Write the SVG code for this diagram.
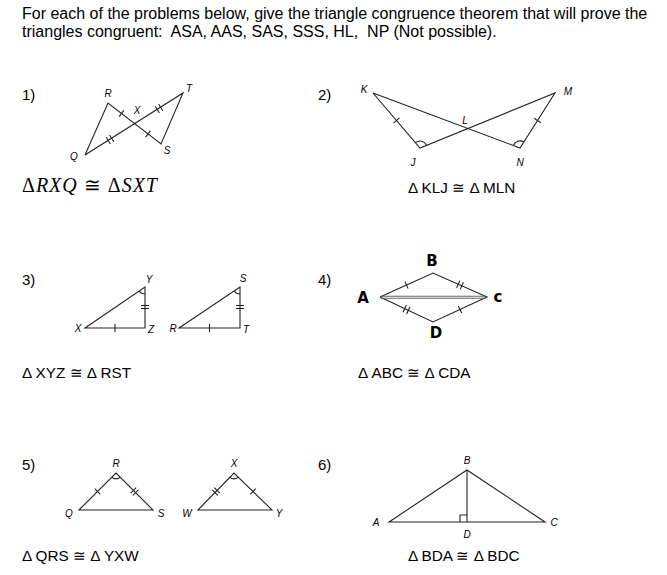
<svg xmlns="http://www.w3.org/2000/svg" width="667" height="575" viewBox="0 0 667 575">
<style>
text{font-family:"Liberation Sans",Arial,sans-serif;fill:#000}
.h{font-size:16px}
.n{font-size:15px}
.lb{font-size:10px;font-style:italic;text-anchor:middle}
.st{font-size:15.3px}
.sr{font-family:"Liberation Serif","Times New Roman",serif;font-size:20px;letter-spacing:1px}
.sr tspan{font-style:italic}
.hw{font-family:"DejaVu Sans",sans-serif;font-weight:bold;font-size:15px;text-anchor:middle}
.ln line,.ln path,.ln polyline{stroke:#222;stroke-width:1.1;fill:none}
</style>
<rect width="667" height="575" fill="#fff"/>
<g id="header">
<text class="h" x="22" y="19">For each of the problems below, give the triangle congruence theorem that will prove the</text>
<text class="h" x="22" y="37" xml:space="preserve">triangles congruent:  ASA, AAS, SAS, SSS, HL,  NP (Not possible).</text>
</g>
<g id="numbers">
<text class="n" x="22" y="100">1)</text><text class="n" x="318" y="100">2)</text>
<text class="n" x="22" y="285">3)</text><text class="n" x="318" y="285">4)</text>
<text class="n" x="22" y="470">5)</text><text class="n" x="318" y="470">6)</text>
</g>
<g id="p1">
<g class="ln">
<polyline points="85,155 108,103 161,144 183,93 85,155"/>
<line x1="119.1" y1="116.7" x2="123.9" y2="110.3"/>
<line x1="145.6" y1="137.2" x2="150.4" y2="130.8"/>
<line x1="106.2" y1="137.2" x2="110.4" y2="144"/><line x1="109.6" y1="135" x2="113.8" y2="141.8"/>
<line x1="155.2" y1="106.2" x2="159.4" y2="113"/><line x1="158.6" y1="104" x2="162.8" y2="110.8"/>
</g>
<text class="lb" x="108" y="97">R</text><text class="lb" x="189" y="92">T</text>
<text class="lb" x="137" y="114">X</text><text class="lb" x="74" y="160">Q</text><text class="lb" x="167" y="154">S</text>
<text class="sr" x="22" y="192">Δ<tspan>RXQ</tspan> ≅ Δ<tspan>SXT</tspan></text>
</g>
<g id="p2">
<g class="ln">
<polyline points="373,93 420,148 555,93 520,148 373,93"/>
<line x1="393.5" y1="123.1" x2="399.5" y2="117.9"/>
<line x1="534.1" y1="118.3" x2="540.9" y2="122.7"/>
<path d="M415.4,142.7 A7,7 0 0,1 426.5,145.4"/>
<path d="M513.4,145.5 A7,7 0 0,1 523.8,142.1"/>
</g>
<text class="lb" x="364" y="93">K</text><text class="lb" x="568" y="95">M</text>
<text class="lb" x="413" y="166">J</text><text class="lb" x="520" y="166">N</text><text class="lb" x="465" y="124">L</text>
<text class="st" x="408" y="193">Δ KLJ ≅ Δ MLN</text>
</g>
<g id="p3">
<g class="ln">
<polygon points="85,328 145,328 145,287" fill="none" stroke="#222" stroke-width="1.1"/>
<polygon points="179,328 240,328 240,287" fill="none" stroke="#222" stroke-width="1.1"/>
<line x1="115" y1="324" x2="115" y2="332"/><line x1="209.5" y1="324" x2="209.5" y2="332"/>
<line x1="141" y1="305.5" x2="149" y2="305.5"/><line x1="141" y1="308.5" x2="149" y2="308.5"/>
<line x1="236" y1="305.5" x2="244" y2="305.5"/><line x1="236" y1="308.5" x2="244" y2="308.5"/>
<path d="M139.2,291 A7,7 0 0,0 145,294"/>
<path d="M234.2,291 A7,7 0 0,0 240,294"/>
</g>
<text class="lb" x="149" y="283">Y</text><text class="lb" x="78" y="332">X</text><text class="lb" x="151" y="333">Z</text>
<text class="lb" x="173" y="332">R</text><text class="lb" x="243" y="282">S</text><text class="lb" x="246" y="333">T</text>
<text class="st" x="22" y="378">Δ XYZ ≅ Δ RST</text>
</g>
<g id="p4">
<g class="ln">
<polyline points="380,297 433,273 487,297 433,322 380,297"/>
<line x1="381" y1="296.3" x2="486" y2="296.3" style="stroke:#666"/>
<line x1="381" y1="298.3" x2="486" y2="298.3" style="stroke:#666"/>
<line x1="404.9" y1="281.4" x2="408.1" y2="288.6"/>
<line x1="459.8" y1="280.6" x2="456.6" y2="287.8"/><line x1="463.4" y1="282.2" x2="460.2" y2="289.4"/>
<line x1="406.4" y1="305" x2="403" y2="312.2"/><line x1="410" y1="306.8" x2="406.6" y2="314"/>
<line x1="458.3" y1="305.9" x2="461.7" y2="313.1"/>
</g>
<text class="hw" x="363" y="303">A</text><text class="hw" x="432" y="266">B</text>
<text class="hw" x="498" y="302">c</text><text class="hw" x="436" y="338">D</text>
<text class="st" x="358" y="378">Δ ABC ≅ Δ CDA</text>
</g>
<g id="p5">
<g class="ln">
<polygon points="79,510 116,473 153,510" fill="none" stroke="#222" stroke-width="1.1"/>
<polygon points="198,510 234,473 272,510" fill="none" stroke="#222" stroke-width="1.1"/>
<line x1="94.7" y1="488.7" x2="100.3" y2="494.3"/>
<line x1="136.2" y1="487.6" x2="130.6" y2="493.2"/><line x1="138.4" y1="489.8" x2="132.8" y2="495.4"/>
<line x1="212.2" y1="489.8" x2="217.8" y2="495.4"/><line x1="214.2" y1="487.6" x2="219.8" y2="493.2"/>
<line x1="255.8" y1="488.7" x2="250.2" y2="494.3"/>
<path d="M111.8,477.2 A6,6 0 0,0 120.2,477.2"/>
<path d="M229.8,477.2 A6,6 0 0,0 238.2,477.2"/>
</g>
<text class="lb" x="116" y="467">R</text><text class="lb" x="69" y="517">Q</text><text class="lb" x="161" y="517">S</text>
<text class="lb" x="187" y="517">W</text><text class="lb" x="234" y="467">X</text><text class="lb" x="279" y="517">Y</text>
<text class="st" x="22" y="561">Δ QRS ≅ Δ YXW</text>
</g>
<g id="p6">
<g class="ln">
<polygon points="389,522 467,470 545,522" fill="none" stroke="#222" stroke-width="1.1"/>
<line x1="467" y1="470" x2="467" y2="522"/>
<polyline points="460,522 460,515 467,515"/>
</g>
<text class="lb" x="467" y="464">B</text><text class="lb" x="376" y="526">A</text>
<text class="lb" x="554" y="526">C</text><text class="lb" x="467" y="538">D</text>
<text class="st" x="408" y="561">Δ BDA ≅ Δ BDC</text>
</g>
</svg>
